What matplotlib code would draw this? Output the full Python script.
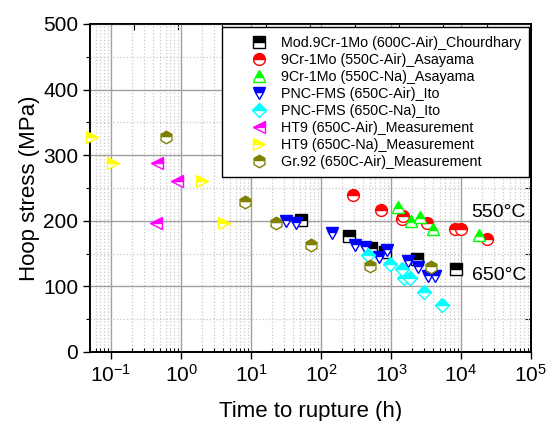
import numpy as np
import matplotlib
matplotlib.use('Agg')
import matplotlib.pyplot as plt
from matplotlib.ticker import MultipleLocator, LogLocator, NullFormatter

plt.rcParams['font.family'] = ['Liberation Sans', 'DejaVu Sans']
plt.rcParams['mathtext.fontset'] = 'custom'
plt.rcParams['mathtext.rm'] = 'Liberation Sans'
plt.rcParams['mathtext.it'] = 'Liberation Sans:italic'

# data (time to rupture in h, hoop stress in MPa)
chou_t = [52, 251, 518, 821, 2330, 8490]
chou_s = [201, 177, 158, 153, 142, 126]

asa_air_t = [290, 720, 1420, 1500, 3240, 8210, 9890, 23300]
asa_air_s = [239, 217, 202, 207, 197, 187, 187, 172]

asa_na_t = [1270, 1930, 2600, 3950, 18250]
asa_na_s = [221, 199, 206, 187, 178]

ito_air_t = [31.6, 44, 142, 306, 425, 680, 867, 1770, 2405, 3415, 4250]
ito_air_s = [199, 197, 182, 163, 160, 145, 156, 138, 129, 116, 116]

ito_na_t = [474, 968, 1420, 1550, 1870, 2960, 5300]
ito_na_s = [148, 134, 126, 112, 113, 92, 72]

ht9_air_t = [0.46, 0.885, 0.44]
ht9_air_s = [288, 261, 196]

ht9_na_t = [0.053, 0.106, 1.98, 4.16]
ht9_na_s = [327, 288, 261, 196]

gr92_t = [0.60, 8.3, 22.8, 71, 501, 3730]
gr92_s = [327, 228, 196, 163, 131, 130]

x_ticks = [1e-1, 1e0, 1e1, 1e2, 1e3, 1e4, 1e5]

series = [
    (chou_t, chou_s, 's', 'black', 'Mod.9Cr-1Mo (600C-Air)_Chourdhary'),
    (asa_air_t, asa_air_s, 'o', '#ff0000', '9Cr-1Mo (550C-Air)_Asayama'),
    (asa_na_t, asa_na_s, '^', '#00ff00', '9Cr-1Mo (550C-Na)_Asayama'),
    (ito_air_t, ito_air_s, 'v', '#0000ff', 'PNC-FMS (650C-Air)_Ito'),
    (ito_na_t, ito_na_s, 'D', '#00ffff', 'PNC-FMS (650C-Na)_Ito'),
    (ht9_air_t, ht9_air_s, '<', '#ff00ff', 'HT9 (650C-Air)_Measurement'),
    (ht9_na_t, ht9_na_s, '>', '#ffff00', 'HT9 (650C-Na)_Measurement'),
    (gr92_t, gr92_s, 'h', '#808000', 'Gr.92 (650C-Air)_Measurement'),
]
msize = {'s': 8, 'o': 8.5, '^': 9, 'v': 9, 'D': 7.5, '<': 9, '>': 9, 'h': 9}

fig = plt.figure(figsize=(5.49, 4.21), dpi=100)
ax = fig.add_axes([0.164, 0.164, 0.803, 0.779])

# top and right ticks (twin axes, drawn below main axes)
axt = ax.twiny()
axt.set_xlim(0, 1)
axt.set_xticks(np.linspace(0, 1, 11))
axt.tick_params(axis='x', direction='in', length=4, labeltop=False)
axr = ax.twinx()
axr.set_ylim(0, 500)
axr.yaxis.set_major_locator(MultipleLocator(50))
axr.tick_params(axis='y', direction='in', length=4, labelright=False)
ax.set_zorder(axr.get_zorder() + 1)
ax.patch.set_visible(False)

for t, s, m, c, lab in series:
    ax.plot(t, s, linestyle='none', marker=m, markersize=msize[m], color=c,
            markeredgecolor=c, markerfacecolor=c, markerfacecoloralt='white',
            fillstyle='top', markeredgewidth=1.0, label=lab, zorder=3, clip_on=False)

ax.set_xscale('log')
ax.set_xlim(0.05, 1e5)
ax.set_ylim(0, 500)
ax.set_xticks(x_ticks)
ax.xaxis.set_minor_locator(LogLocator(base=10, subs=np.arange(2, 10), numticks=20))
ax.xaxis.set_minor_formatter(NullFormatter())
ax.yaxis.set_major_locator(MultipleLocator(100))
ax.yaxis.set_minor_locator(MultipleLocator(50))

ax.grid(which='major', color='#a0a0a0', linestyle='-', linewidth=1.0, zorder=0)
ax.grid(which='minor', color='#c8c8c8', linestyle=':', linewidth=0.9, zorder=0)
ax.set_axisbelow(True)

ax.tick_params(axis='both', which='major', direction='out', length=5, width=1, labelsize=15)
ax.tick_params(axis='x', which='minor', direction='in', length=3, width=0.8)
ax.tick_params(axis='y', which='minor', direction='out', length=3, width=0.8)
for a in (ax, axt, axr):
    for sp in a.spines.values():
        sp.set_linewidth(1.2)

ax.set_xlabel('Time to rupture (h)', fontsize=16, labelpad=11)
ax.set_ylabel('Hoop stress (MPa)', fontsize=16, labelpad=2)

ax.text(14200, 213, '550°C', fontsize=14, ha='left', va='center', zorder=4)
ax.text(14200, 117, '650°C', fontsize=14, ha='left', va='center', zorder=4)

leg = ax.legend(loc='upper left', bbox_to_anchor=(0.299, 0.991), fontsize=10.3,
                frameon=True, fancybox=False, framealpha=1, edgecolor='black',
                labelspacing=0.21, handletextpad=-0.5, borderpad=0.6, handlelength=4.0,
                borderaxespad=0)
leg.get_frame().set_linewidth(1.0)
leg.set_zorder(5)

fig.savefig('out.png', dpi=100)
